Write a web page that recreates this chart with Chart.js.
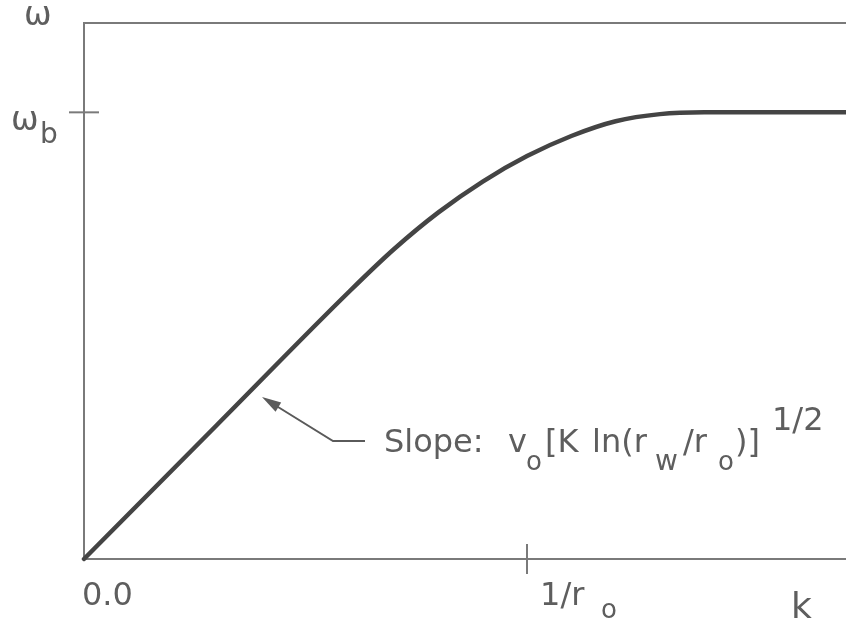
<!DOCTYPE html>
<html>
<head>
<meta charset="utf-8">
<title>Dispersion curve</title>
<script src="https://cdn.jsdelivr.net/npm/chart.js@4.4.1/dist/chart.umd.min.js"></script>
<style>
  html, body { margin: 0; padding: 0; background: #ffffff; }
  #wrap { position: relative; width: 846px; height: 625px; }
</style>
</head>
<body>
<div id="wrap"><canvas id="chart"></canvas></div>
<script>
// Wavenumber k (in units of 1/r_o) and frequency omega (in units of omega_b)
const kValues     = [0, 0.300, 0.600, 0.700, 0.800, 0.900, 1.000, 1.100, 1.200, 1.300, 1.400, 1.720];
const omegaValues = [0, 0.300, 0.600, 0.694, 0.776, 0.845, 0.902, 0.947, 0.980, 0.996, 1.000, 1.000];

// Axis extents and marked ticks
const kMax = 1.72;
const omegaMax = 1.2;
const xTickValues = [0, 1];         // 0.0 and 1/r_o
const yTickValues = [1];            // omega_b

const curvePoints = kValues.map((k, i) => ({ x: k, y: omegaValues[i] }));

const TEXT = '#5e5e5e';
const AXIS = '#7a7a7a';
const FONT = '"DejaVu Sans", sans-serif';

function drawText(ctx, str, x, baseline, size) {
  ctx.font = size + 'px ' + FONT;
  ctx.fillText(str, x, baseline);
}

// Ticks that cross the axes, axis labels and the slope annotation
const decorations = {
  id: 'decorations',
  afterDraw(chart) {
    const ctx = chart.ctx;
    const xs = chart.scales.x, ys = chart.scales.y;
    const area = chart.chartArea;
    ctx.save();

    // crossing tick marks
    ctx.strokeStyle = AXIS;
    ctx.lineWidth = 2;
    yTickValues.forEach(v => {
      const py = ys.getPixelForValue(v);
      ctx.beginPath();
      ctx.moveTo(area.left - 15, py);
      ctx.lineTo(area.left + 15, py);
      ctx.stroke();
    });
    xTickValues.filter(v => v > 0).forEach(v => {
      const px = xs.getPixelForValue(v);
      ctx.beginPath();
      ctx.moveTo(px, area.bottom - 15);
      ctx.lineTo(px, area.bottom + 15);
      ctx.stroke();
    });

    ctx.fillStyle = TEXT;
    ctx.textBaseline = 'alphabetic';
    ctx.textAlign = 'left';

    // y axis: omega and omega_b
    drawText(ctx, 'ω', 24, 25, 33);
    const pyb = ys.getPixelForValue(yTickValues[0]);
    drawText(ctx, 'ω', 11, pyb + 18, 33);
    drawText(ctx, 'b', 40, pyb + 31, 28);

    // x axis: 0.0, 1/r_o, k
    const px0 = xs.getPixelForValue(xTickValues[0]);
    drawText(ctx, '0.0', px0 - 2, 605, 32);
    const px1 = xs.getPixelForValue(xTickValues[1]);
    drawText(ctx, '1/r', px1 + 13, 605, 32);
    drawText(ctx, 'o', px1 + 74, 618, 26);
    drawText(ctx, 'k', 791, 618, 36);

    // slope annotation with arrow
    ctx.strokeStyle = '#5a5a5a';
    ctx.fillStyle = '#5a5a5a';
    ctx.lineWidth = 2;
    const tip = { x: 262, y: 397 };
    const bend = { x: 333, y: 441 };
    ctx.beginPath();
    ctx.moveTo(365, 441);
    ctx.lineTo(bend.x, bend.y);
    ctx.lineTo(tip.x + 8, tip.y + 5);
    ctx.stroke();
    const ang = Math.atan2(tip.y - bend.y, tip.x - bend.x);
    const len = 20, half = 0.27;
    ctx.beginPath();
    ctx.moveTo(tip.x, tip.y);
    ctx.lineTo(tip.x - len * Math.cos(ang - half), tip.y - len * Math.sin(ang - half));
    ctx.lineTo(tip.x - len * Math.cos(ang + half), tip.y - len * Math.sin(ang + half));
    ctx.closePath();
    ctx.fill();

    ctx.fillStyle = TEXT;
    drawText(ctx, 'Slope:', 384, 452, 32);
    drawText(ctx, 'v', 508, 452, 32);
    drawText(ctx, 'o', 526, 470, 26);
    drawText(ctx, '[K', 545, 452, 32);
    drawText(ctx, 'ln(r', 592, 452, 32);
    drawText(ctx, 'w', 655, 470, 28);
    drawText(ctx, '/r', 683, 452, 32);
    drawText(ctx, 'o', 718, 470, 26);
    drawText(ctx, ')]', 735, 452, 32);
    drawText(ctx, '1/2', 772, 430, 32);

    ctx.restore();
  }
};

const hiddenAxis = (pos, max) => ({
  type: 'linear',
  position: pos,
  min: 0,
  max: max,
  ticks: { display: false },
  grid: { display: false, drawTicks: false },
  border: { display: true, color: AXIS, width: 2 }
});

new Chart(document.getElementById('chart'), {
  type: 'line',
  data: {
    datasets: [{
      data: curvePoints,
      borderColor: '#444444',
      borderWidth: 4.5,
      pointRadius: 0,
      fill: false,
      cubicInterpolationMode: 'monotone',
      borderCapStyle: 'round',
      clip: false
    }]
  },
  options: {
    responsive: true,
    maintainAspectRatio: false,
    animation: false,
    layout: { padding: { left: 84, top: 23, right: 0, bottom: 66 } },
    plugins: { legend: { display: false }, tooltip: { enabled: false } },
    scales: {
      x: hiddenAxis('bottom', kMax),
      xTop: hiddenAxis('top', kMax),
      y: hiddenAxis('left', omegaMax)
    }
  },
  plugins: [decorations]
});
</script>
</body>
</html>
